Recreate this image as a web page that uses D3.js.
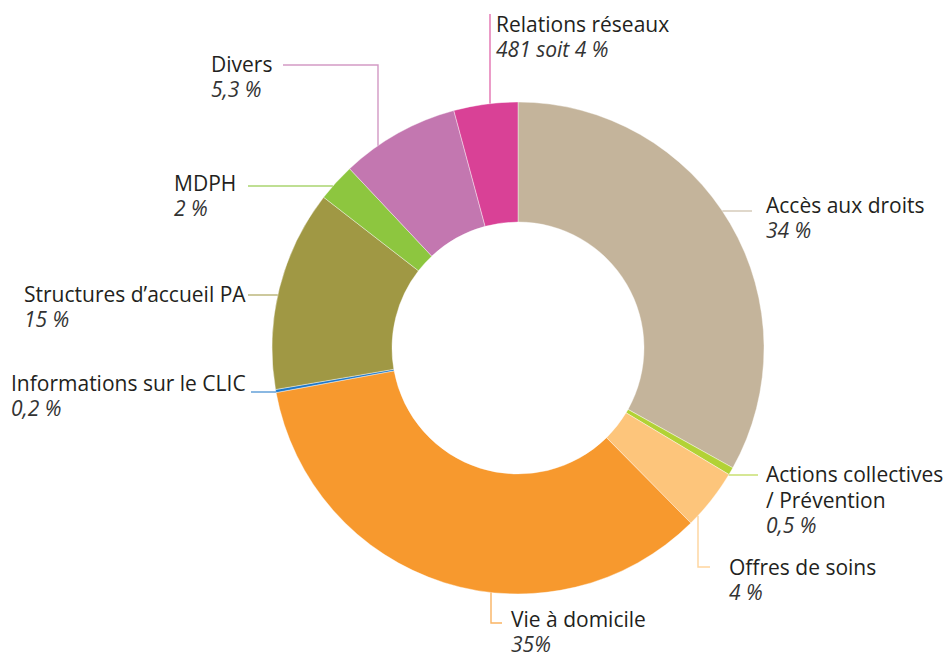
<!DOCTYPE html>
<html>
<head>
<meta charset="utf-8">
<script src="https://cdn.jsdelivr.net/npm/d3@7"></script>
<style>
    html, body { margin: 0; padding: 0; background: #fff; }
    #chart { width: 952px; height: 657px; }
    text { font-family: "Open Sans", "Noto Sans", sans-serif; fill: #231f20; }
</style>
</head>
<body>
<div id="chart"></div>
<script>
const categories = ['Accès aux droits', 'Actions collectives / Prévention', 'Offres de soins', 'Vie à domicile',
    'Informations sur le CLIC', 'Structures d\u2019accueil PA', 'MDPH', 'Divers', 'Relations réseaux'];
const shares = [33.1, 0.5, 4.0, 34.5, 0.2, 13.2, 2.5, 7.8, 4.2];
const pctLabels = ['34 %', '0,5 %', '4 %', '35%', '0,2 %', '15 %', '2 %', '5,3 %', '481 soit 4 %'];
const nameLines = [['Accès aux droits'], ['Actions collectives', '/ Prévention'], ['Offres de soins'], ['Vie à domicile'],
    ['Informations sur le CLIC'], ['Structures d\u2019accueil PA'], ['MDPH'], ['Divers'], ['Relations réseaux']];
const colors = ['#c4b49b', '#b2d235', '#fdc57b', '#f7992e', '#1f78c8', '#a09844', '#8dc63f', '#c377b0', '#d94196'];

(function () {
    let w = 952, h = 657;
    let cx = 518, cy = 348, outerR = 246, innerR = 126;

    let svg = d3.select('#chart')
        .append('svg')
        .attr('width', w)
        .attr('height', h);

    let pie = d3.pie().sort(null).value(function (d) { return d; });
    let arc = d3.arc().innerRadius(innerR).outerRadius(outerR);

    let g = svg.append('g').attr('transform', 'translate(' + cx + ',' + cy + ')');

    g.selectAll('.slice')
        .data(pie(shares))
        .enter()
        .append('path')
        .attr('class', 'slice')
        .attr('d', arc)
        .style('fill', function (d, i) { return colors[i]; })
        .style('stroke', '#fff')
        .style('stroke-width', 0.4);

    // where a horizontal / vertical leader meets the outer edge
    function edgeX(y, side) { return cx + side * Math.sqrt(outerR * outerR - (y - cy) * (y - cy)); }
    function edgeY(x, side) { return cy + side * Math.sqrt(outerR * outerR - (x - cx) * (x - cx)); }

    // label layout: text position and leader route
    let layout = [
        {tx: 766, ty: 213, pts: function () { return [[752, 211], [edgeX(211, 1), 211]]; }},
        {tx: 766, ty: 482, pts: function () { return [[758, 475], [edgeX(475, 1), 475]]; }},
        {tx: 729, ty: 575, pts: function () { return [[710, 567], [698, 567], [698, edgeY(698, 1)]]; }},
        {tx: 511, ty: 627, pts: function () { return [[502, 623], [491, 623], [491, edgeY(491, 1)]]; }},
        {tx: 11, ty: 391, pts: function () { return [[251, 392], [edgeX(392, -1), 392]]; }},
        {tx: 24, ty: 302, pts: function () { return [[248, 295], [edgeX(295, -1), 295]]; }},
        {tx: 174, ty: 191, pts: function () { return [[248, 186], [edgeX(186, -1), 186]]; }},
        {tx: 211, ty: 72, pts: function () { return [[283, 65], [378, 65], [378, edgeY(378, -1)]]; }},
        {tx: 496, ty: 32, pts: function () { return [[490, 14], [490, edgeY(490, -1)]]; }}
    ];

    let line = d3.line();

    layout.forEach(function (el, idx) {
        svg.append('path')
            .attr('d', line(el.pts()))
            .style('fill', 'none')
            .style('stroke', colors[idx])
            .style('stroke-opacity', 0.75)
            .style('stroke-width', 1.4);

        let t = svg.append('text')
            .attr('x', el.tx)
            .attr('y', el.ty)
            .style('font-size', '21px');

        nameLines[idx].forEach(function (s, k) {
            t.append('tspan')
                .attr('x', el.tx)
                .attr('dy', k === 0 ? 0 : 26)
                .text(s);
        });
        t.append('tspan')
            .attr('x', el.tx)
            .attr('dy', 25)
            .style('font-style', 'italic')
            .style('fill', '#333')
            .text(pctLabels[idx]);
    });
})();
</script>
</body>
</html>
